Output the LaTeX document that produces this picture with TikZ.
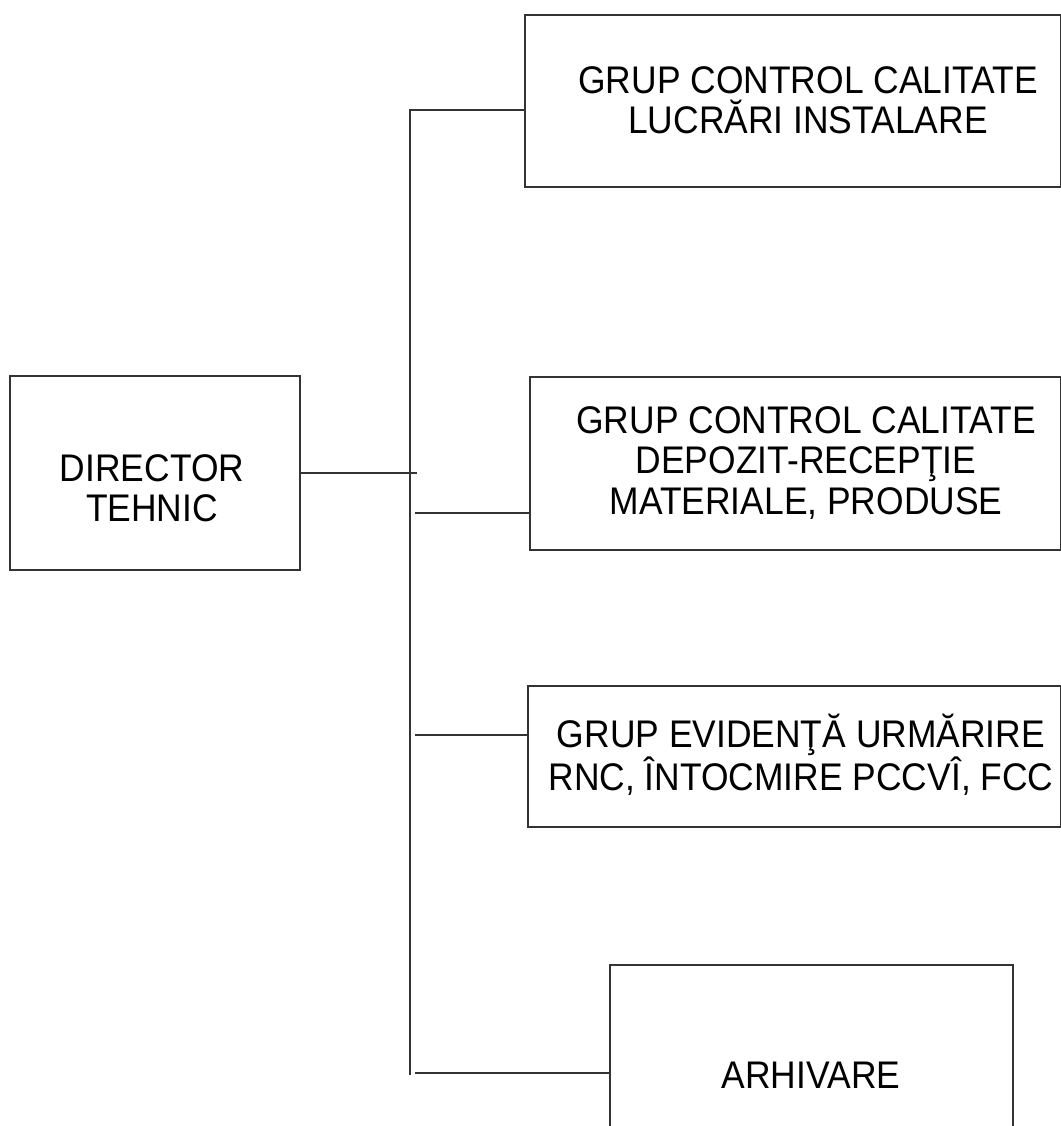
\documentclass[tikz,border=0pt]{standalone}
\usepackage{fontspec}
\setmainfont{Liberation Sans}[FakeStretch=0.92]
\begin{document}
\begin{tikzpicture}[x=1pt,y=-1pt,
  ln/.style={draw=black!80, line width=1.6pt},
  boxnode/.style={ln, rectangle, inner sep=0pt, outer sep=0pt},
  lbl/.style={align=center, inner sep=0pt, font=\fontsize{38.5}{40.5}\selectfont}]
\useasboundingbox (0,0) rectangle (1060,1126);
% boxes
\node[boxnode, minimum width=536, minimum height=172] (b1) at (793,101) {};
\node[boxnode, minimum width=531, minimum height=173] (b2) at (795.5,463.5) {};
\node[boxnode, minimum width=533, minimum height=141] (b3) at (794.5,756.5) {};
\node[boxnode, minimum width=403, minimum height=180] (b4) at (811.5,1055) {};
\node[boxnode, minimum width=290, minimum height=194] (dir) at (155,473) {};
% texts
\node[lbl] (tdir) at (152,488) {DIRECTOR\\TEHNIC};
\node[lbl] (tb1) at (808,100) {GRUP CONTROL CALITATE\\LUCRĂRI INSTALARE};
\node[lbl] (tb2) at (806,463) {GRUP CONTROL CALITATE\\DEPOZIT-RECEPŢIE\\MATERIALE, PRODUSE};
\node[lbl] (tb3) at (801,755) {GRUP EVIDENŢĂ URMĂRIRE\\RNC, ÎNTOCMIRE PCCVÎ, FCC};
\node[lbl] (tb4) at (811,1075) {ARHIVARE};
% trunk
\coordinate (ttop) at (410,110);
\coordinate (tbot) at (410,1075);
\coordinate (tdirend) at (417,473);
\coordinate (t2) at (415,513);
\coordinate (t3) at (415,735);
\coordinate (t4) at (415,1073);
\draw[ln] (ttop -| b1.west) -- (ttop) -- (tbot);
\draw[ln] (dir.east |- tdirend) -- (tdirend);
\draw[ln] (t2) -- (t2 -| b2.west);
\draw[ln] (t3) -- (t3 -| b3.west);
\draw[ln] (t4) -- (t4 -| b4.west);
\end{tikzpicture}
\end{document}
